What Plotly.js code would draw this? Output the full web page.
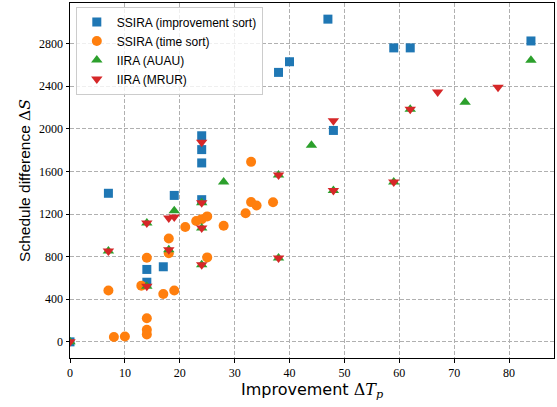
<!DOCTYPE html>
<html>
<head>
<meta charset="utf-8">
<script src="https://cdn.plot.ly/plotly-3.0.1.min.js"></script>
<style>html,body{margin:0;padding:0;background:#fff;}#chart{width:557px;height:407px;}</style>
</head>
<body>
<div id="chart"></div>
<script>
// SSIRA (improvement sort)
const impX = [0, 7, 14, 14, 17, 19, 24, 24, 24, 24, 38, 40, 47, 48, 59, 62, 84];
const impY = [0, 1395, 560, 680, 705, 1375, 1335, 1680, 1805, 1935, 2530, 2630, 3030, 1985, 2760, 2760, 2825];
// SSIRA (time sort)
const timeX = [7, 8, 10, 13, 14, 14, 14, 14, 17, 18, 18, 19, 21, 23, 24, 25, 25, 28, 32, 33, 33, 34, 37];
const timeY = [482, 45, 50, 528, 70, 113, 222, 790, 450, 833, 970, 482, 1078, 1135, 1152, 1178, 793, 1090, 1207, 1312, 1690, 1280, 1310];
// IIRA (AUAU)
const auauX = [0, 7, 14, 14, 18, 19, 24, 24, 24, 28, 38, 38, 44, 48, 59, 62, 72, 84];
const auauY = [0, 852, 522, 1115, 865, 1230, 725, 1070, 1305, 1500, 787, 1567, 1845, 1422, 1500, 2183, 2250, 2645];
// IIRA (MRUR)
const mrurX = [0, 7, 14, 14, 18, 18, 19, 24, 24, 24, 24, 38, 38, 48, 48, 59, 62, 67, 78];
const mrurY = [0, 852, 522, 1115, 865, 1162, 1172, 725, 1070, 1305, 1875, 787, 1567, 1422, 2075, 1500, 2183, 2345, 2390];

const names = ['SSIRA (improvement sort)', 'SSIRA (time sort)', 'IIRA (AUAU)', 'IIRA (MRUR)'];
const colors = ['#1f77b4', '#ff7f0e', '#2ca02c', '#d62728'];
const symbols = ['square', 'circle', 'triangle-up', 'triangle-down'];
const sizes = [9, 10, 10, 10];
const xs = [impX, timeX, auauX, mrurX];
const ys = [impY, timeY, auauY, mrurY];

const traces = names.map((n, i) => ({
  x: xs[i], y: ys[i], name: n, type: 'scatter', mode: 'markers',
  marker: {color: colors[i], symbol: symbols[i], size: sizes[i], line: {width: 0}},
  cliponaxis: true
}));

const serif = 'Liberation Serif, DejaVu Serif, serif';
const sans = 'DejaVu Sans, sans-serif';

const layout = {
  width: 557, height: 407,
  margin: {l: 70, r: 3, t: 3, b: 49},
  paper_bgcolor: '#fff', plot_bgcolor: '#fff',
  showlegend: true,
  legend: {
    x: 0.012, y: 0.99, xanchor: 'left', yanchor: 'top',
    bgcolor: 'rgba(255,255,255,0.8)', bordercolor: '#cccccc', borderwidth: 1,
    font: {family: 'Liberation Sans, Arial, sans-serif', size: 12, color: '#000'}
  },
  xaxis: {
    range: [0, 88.2], tickvals: [0, 10, 20, 30, 40, 50, 60, 70, 80],
    showline: true, linecolor: '#000', linewidth: 1, mirror: true,
    ticks: 'outside', ticklen: 3.5, tickcolor: '#000',
    showgrid: true, gridcolor: '#b0b0b0', griddash: '4px,2px', gridwidth: 1,
    zeroline: false,
    tickfont: {family: serif, size: 12, color: '#000'},
    title: {text: 'Improvement <span style="font-family:DejaVu Serif">Δ<i>T</i><sub><i>p</i></sub></span>', font: {family: sans, size: 16, color: '#000'}, standoff: 3}
  },
  yaxis: {
    range: [-151.5, 3181.5], tickvals: [0, 400, 800, 1200, 1600, 2000, 2400, 2800],
    showline: true, linecolor: '#000', linewidth: 1, mirror: true,
    ticks: 'outside', ticklen: 3.5, tickcolor: '#000',
    showgrid: true, gridcolor: '#b0b0b0', griddash: '4px,2px', gridwidth: 1,
    zeroline: false,
    tickfont: {family: serif, size: 12, color: '#000'},
    title: {text: 'Schedule difference <span style="font-family:DejaVu Serif">Δ<i>S</i></span>', font: {family: 'Liberation Sans, Arial, sans-serif', size: 15.5, color: '#000'}, standoff: 4}
  }
};

Plotly.newPlot('chart', traces, layout, {displayModeBar: false, staticPlot: true});
</script>
</body>
</html>
